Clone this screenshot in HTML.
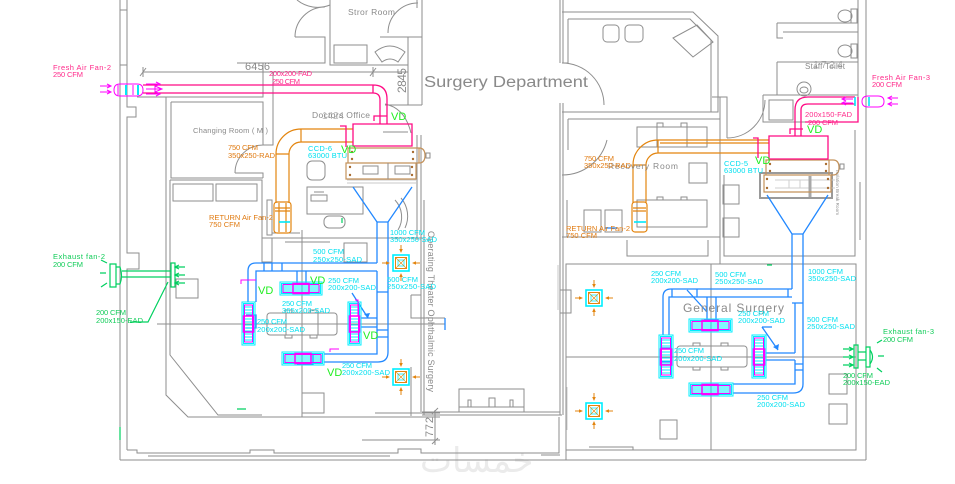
<!DOCTYPE html>
<html><head><meta charset="utf-8"><style>
html,body{margin:0;padding:0;background:#fff;}
svg{display:block;}
text{font-family:"Liberation Sans",sans-serif;}
.g{stroke:#8e8e8e;stroke-width:1;fill:none;}
.lg{stroke:#c9c9c9;stroke-width:1;fill:none;}
.mg{stroke:#ff0a84;stroke-width:1.3;fill:none;}
.fm{stroke:#ff00ff;stroke-width:1;fill:none;}
.or{stroke:#e3850f;stroke-width:1.2;fill:none;}
.br{stroke:#c4925a;stroke-width:1.2;fill:none;}
.bl{stroke:#2288ff;stroke-width:1.3;fill:none;}
.cy{stroke:#00eeff;stroke-width:1;fill:none;}
.gr{stroke:#00d060;stroke-width:1.2;fill:none;}
.t{font-size:7.5px;}
.tm{fill:#ff2a8a;}
.to{fill:#e07a10;}
.tc{fill:#00e0f0;}
.tg{fill:#10cc58;}
.tv{fill:#22ee22;font-size:11px;}
.tgr{fill:#8a8a8a;}
</style></head><body>
<svg width="955" height="484" viewBox="0 0 955 484" xmlns="http://www.w3.org/2000/svg">
<rect width="955" height="484" fill="#fff"/>

<!-- watermark -->
<text x="420" y="472" font-size="34" fill="#ebebeb" style="font-family:'DejaVu Sans',sans-serif">خمسات</text>

<!-- ===== GRAY WALLS ===== -->
<path class="g" d="
M120 0V460 M127 0V107H136V117H127V253H139V269H127V450
M120 10H127 M120 65H127
M127 450H137V453H250V450H274V453H398V449H421V453H559V417
M148 456H390 M120 460H866 M541 455H560
M297 0A33 33 0 0 0 330 5
M330 0V65H408
M295 37H325V63H237
M263 63V97H137
M143 72H408
M140 76L146 68 M370 76L376 68 M143 67V77 M373 67V77
M380 37H422 M408 37V105 M422 0V105 M417 0V8 M385 105H422
M295 37A30 30 0 0 1 325 7
M388 33A30 30 0 0 1 418 3
M273 72V145H263
M235 173A28 28 0 0 1 263 145 M235 173H263V178
M171 102H263V145 M171 102V178H263
M166 97V395L188 417H440
M170 180H262V262 M170 180V355L218 415H262
M267 200H272V235H267Z M272 233H300
M272 238H422 M272 238V262H262 M285 242H330
M302 230V417
M157 324H445
M411 295H421 M411 295V318H445
M411 367V416
M421 135V412 M424 200V415 M417 135V240
M362 440H440 M375 413H440
M435 410V445 M432 414L438 408 M432 444L438 438
M422 415H562 M422 412H560
M385 104Q405 108 411 133 M383 132H408
M560 0V63 M563 0V63 M562 63H568 M568 19V63
M562 12H693L718 36V112H562
M568 19H690L711 40V112
M562 63A42 42 0 0 1 604 105
M560 103V415 M563 103V415
M568 119H720 M568 119V150
M562 175A46 46 0 0 0 607 140
M720 97V264 M712 97H727V103 M727 103V138
M727 138A38 38 0 0 0 765 100
M763 95H858 M763 95V122H858
M777 23V38H783 M777 23H858 M783 32H858 M777 62V95 M777 62H858
M858 0V97 M866 0V460 M860 182V240
M562 237H720 M567 200V237
M627 240V256H708V240
M724 175V256H855V130
M566 264H856V450H566Z
M711 264V450 M566 357H856
M560 290H571V313H560
M589 447H633V450
M566 450V460
"/>
<path class="lg" d="M347 180H416 M347 183H416 M567 387V430 M558 265V310" stroke-width="1.5"/>

<!-- furniture gray -->
<g class="g">
<rect x="334" y="45" width="33" height="18"/>
<path d="M375 52Q390 40 405 52L398 62Q390 56 382 62Z"/>
<rect x="173" y="184" width="40" height="17"/>
<rect x="216" y="184" width="41" height="17"/>
<rect x="307" y="187" width="56" height="27"/>
<rect x="311" y="195" width="16" height="6"/>
<path d="M314 192H324"/>
<rect x="307" y="161" width="18" height="19" rx="5"/>
<rect x="324" y="216" width="21" height="12" rx="5"/>
<path d="M395 200A25 25 0 0 1 398 230 M401 198A28 28 0 0 1 405 228"/>
<rect x="344" y="243" width="23" height="19"/>
<rect x="267" y="313" width="70" height="22" rx="3"/>
<path d="M286 313V335M318 313V335"/>
<rect x="285" y="335" width="7" height="3"/><rect x="310" y="335" width="7" height="3"/>
<rect x="285" y="310" width="7" height="3"/><rect x="310" y="310" width="7" height="3"/>
<rect x="302" y="393" width="22" height="20"/>
<rect x="176" y="279" width="22" height="19"/>
<rect x="262" y="238" width="10" height="24"/>
<rect x="459" y="389" width="65" height="23"/>
<path d="M459 407H524 M468 407V400H471V407 M489 407V398H495V407 M510 407V400H513V407"/>
<rect x="603" y="25" width="16" height="17" rx="4"/>
<rect x="625" y="25" width="18" height="17" rx="4"/>
<polygon points="697,25 713,42 693,57 673,38"/>
<rect x="637" y="127" width="70" height="20"/>
<rect x="657" y="123" width="6" height="4"/><rect x="681" y="123" width="6" height="4"/>
<path d="M657 127V147M687 127V147"/>
<rect x="637" y="200" width="70" height="27"/>
<rect x="657" y="197" width="6" height="3"/><rect x="681" y="197" width="6" height="3"/>
<rect x="689" y="163" width="18" height="20"/>
<rect x="584" y="210" width="17" height="22"/>
<rect x="605" y="210" width="17" height="22"/>
<rect x="723" y="185" width="16" height="19"/>
<rect x="723" y="218" width="16" height="19"/>
<ellipse cx="845" cy="16" rx="7" ry="6"/><rect x="851" y="9" width="6" height="14"/>
<ellipse cx="845" cy="51" rx="7" ry="6"/><rect x="851" y="44" width="6" height="14"/>
<circle cx="804" cy="89" r="7"/><ellipse cx="804" cy="90" rx="4" ry="3"/>
<rect x="769" y="100" width="24" height="20"/>
<rect x="677" y="346" width="70" height="21" rx="3"/>
<rect x="693" y="343" width="7" height="3"/><rect x="721" y="343" width="7" height="3"/>
<rect x="693" y="367" width="7" height="3"/><rect x="721" y="367" width="7" height="3"/>
<rect x="829" y="374" width="18" height="20"/>
<rect x="829" y="404" width="18" height="20"/>
<rect x="660" y="420" width="17" height="19"/>
<rect x="426" y="153" width="4" height="5"/>
<rect x="840" y="164" width="4" height="5"/>
</g>

<!-- ===== ORANGE RETURN DUCTS ===== -->
<path class="or" d="M353 129H301A25 25 0 0 0 276 154V203 M353 142H301A12 12 0 0 0 289 154V203 M276 154H289 M301 129V142"/>
<rect x="274" y="202" width="17" height="31" rx="3" class="or"/>
<path class="or" d="M275 208H290M275 211H290M279 203V232M286 203V232" stroke-width="0.8"/>
<path stroke="#00e8f8" stroke-width="1.6" d="M279 222H290"/>
<path class="or" d="M769 140H658A25 25 0 0 0 633 165V203 M769 153H658A12 12 0 0 0 646 165V203 M633 165H646 M658 140V153 M660 143H769"/>
<rect x="632" y="202" width="15" height="30" rx="3" class="or"/>
<path class="or" d="M633 208H646M633 211H646" stroke-width="0.8"/>
<path stroke="#00e8f8" stroke-width="1.6" d="M634 222H646"/>

<!-- ===== CCD units (brown) ===== -->
<path class="br" d="M348 148H419Q425 148 425 155.5Q425 163 419 163H348Z M346 163H416V179H346Z M419 148V163"/>
<path class="g" d="M363 166H378V174H363Z M388 163V179 M395 166H410V174H395Z" stroke="#bbb"/>
<g fill="#a86c30">
<circle cx="352" cy="152" r="1.2"/><circle cx="352" cy="159" r="1.2"/><circle cx="413" cy="152" r="1.2"/><circle cx="413" cy="159" r="1.2"/>
<circle cx="350" cy="167" r="1.2"/><circle cx="350" cy="175" r="1.2"/><circle cx="412" cy="167" r="1.2"/><circle cx="412" cy="175" r="1.2"/>
</g>
<rect x="760" y="173" width="72" height="25" fill="none" stroke="#9a9a9a" stroke-width="2"/>
<path d="M775 180H835 M775 188H835 M789 180V188 M800 180V188" stroke="#cfcfcf" fill="none"/>
<path d="M810 176V197" stroke="#a8a8a8" stroke-width="3"/>
<path class="br" d="M766 160H833Q839 160 839 167.5Q839 175 833 175H766Z M764 175H831V192H764Z M829 160V175"/>
<g fill="#a86c30">
<circle cx="770" cy="164" r="1.2"/><circle cx="770" cy="171" r="1.2"/><circle cx="826" cy="164" r="1.2"/><circle cx="826" cy="171" r="1.2"/>
<circle cx="767" cy="179" r="1.2"/><circle cx="767" cy="188" r="1.2"/><circle cx="828" cy="179" r="1.2"/><circle cx="828" cy="188" r="1.2"/>
</g>

<!-- ===== MAGENTA FRESH AIR ===== -->
<path class="mg" d="M143 85H373Q387 85 387 99V124 M143 93H373Q380 93 380 100V124 M373 85V93 M353 124H412V146H353Z M340 126H346V147 M374 121V116H387"/>
<path class="fm" d="M120 84H137Q143 84 143 90Q143 96 137 96H120Q114 96 114 90Q114 84 120 84Z M118 85V95 M133 85V95"/>
<path stroke="#00e8f8" stroke-width="2" d="M126 85V95M138 85V95"/>
<path class="fm" d="M100 86H111M100 92H111M107 84L111 86 107 88M107 90L111 92 107 94 M146 84H160M146 89H162M146 94H160 M156 82L160 84 156 86 M155 86L162 89 155 92Z M156 92L160 94 156 96"/>
<path class="mg" d="M855 97H808Q795 97 795 110V136 M855 104H808Q801 104 801 110V136 M805 122H858V97 M769 136H828V159H769Z M753 138H758V158 M790 134V129H803"/>
<path class="fm" d="M868 96H878Q884 96 884 101.5Q884 107 878 107H868Q862 107 862 101.5Q862 96 868 96Z M888 98H898M888 104H898 M892 96L888 98 892 100 M892 102L888 104 892 106 M842 99H853M842 103H853 M846 97L842 99 846 101 M846 101L842 103 846 105"/>
<path stroke="#00e8f8" stroke-width="1.6" d="M869 97V106 M855 97V106"/>

<!-- ===== BLUE SUPPLY DUCTS ===== -->
<path class="bl" d="
M353 187L377 222H388L412 187
M377 222V263 M388 222V352Q388 362 378 362H324
M377 263H256Q248 263 248 271V302
M377 271H256V302
M377 271V354H324
M264 263V271 M272 263V271 M282 263V271
M377 292H388 M377 330H388 M377 337H388
M297 271V283 M306 271V283
M361 318H377 M361 327H377
M352 293L368 318
M246 315H256V328H246
M297 354H313V364H297
"/>
<path d="M368 318L364 314 370 313Z" fill="#2288ff"/>
<path class="bl" d="
M767 195L792 234H803L828 195
M792 234V289 M803 234V384Q803 393 793 393H733
M792 289H671Q663 289 663 297V335
M792 297H669V335
M795 303V353 M795 360V384H733
M792 303H803 M795 364H803 M795 370H803
M672 289V297 M697 289V297 M788 289V297
M707 297V320 M716 297V320
M687 290L707 312
M766 353H795 M766 360H795
M762 327L778 350 M762 327H772
M704 320H718V330H704
M661 348H671V362H661
"/>
<path d="M778 350L773 347 779 344Z" fill="#2288ff"/>
<path stroke="#2288ff" stroke-width="1.3" d="M445 318V330 M605 228H617"/>

<!-- ===== DIFFUSERS (wide) ===== -->
<g transform="translate(280,282)">
<rect width="42" height="13" class="cy" stroke-width="1.2"/><rect x="1.5" y="1.5" width="39" height="10" class="cy"/>
<path class="cy" stroke-width="0.6" d="M2 4H40M2 6H40M2 8H40M2 10H40"/>
<rect x="3" y="2.5" width="36" height="8" fill="none" stroke="#ff00ff"/>
<rect x="13" y="1.5" width="16" height="10" fill="none" stroke="#ff00ff" stroke-width="1.5"/>
</g>
<g transform="translate(282,352)">
<rect width="42" height="13" class="cy" stroke-width="1.2"/><rect x="1.5" y="1.5" width="39" height="10" class="cy"/>
<path class="cy" stroke-width="0.6" d="M2 4H40M2 6H40M2 8H40M2 10H40"/>
<rect x="3" y="2.5" width="36" height="8" fill="none" stroke="#ff00ff"/>
<rect x="13" y="1.5" width="16" height="10" fill="none" stroke="#ff00ff" stroke-width="1.5"/>
</g>
<g transform="translate(689,319)">
<rect width="43" height="13" class="cy" stroke-width="1.2"/><rect x="1.5" y="1.5" width="40" height="10" class="cy"/>
<path class="cy" stroke-width="0.6" d="M2 4H41M2 6H41M2 8H41M2 10H41"/>
<rect x="3" y="2.5" width="37" height="8" fill="none" stroke="#ff00ff"/>
<rect x="13" y="1.5" width="16" height="10" fill="none" stroke="#ff00ff" stroke-width="1.5"/>
</g>
<g transform="translate(689,383)">
<rect width="44" height="13" class="cy" stroke-width="1.2"/><rect x="1.5" y="1.5" width="41" height="10" class="cy"/>
<path class="cy" stroke-width="0.6" d="M2 4H42M2 6H42M2 8H42M2 10H42"/>
<rect x="3" y="2.5" width="38" height="8" fill="none" stroke="#ff00ff"/>
<rect x="13" y="1.5" width="16" height="10" fill="none" stroke="#ff00ff" stroke-width="1.5"/>
</g>
<!-- tall -->
<g transform="translate(242,302)">
<rect width="13" height="43" class="cy" stroke-width="1.2"/><rect x="1.5" y="1.5" width="10" height="40" class="cy"/>
<path class="cy" stroke-width="0.6" d="M2 5H11M2 8H11M2 11H11M2 14H11M2 17H11M2 20H11M2 23H11M2 26H11M2 29H11M2 32H11M2 35H11M2 38H11"/>
<rect x="2.5" y="3" width="8" height="37" fill="none" stroke="#ff00ff"/>
<rect x="1.5" y="14" width="10" height="16" fill="none" stroke="#ff00ff" stroke-width="1.5"/>
</g>
<g transform="translate(348,302)">
<rect width="13" height="43" class="cy" stroke-width="1.2"/><rect x="1.5" y="1.5" width="10" height="40" class="cy"/>
<path class="cy" stroke-width="0.6" d="M2 5H11M2 8H11M2 11H11M2 14H11M2 17H11M2 20H11M2 23H11M2 26H11M2 29H11M2 32H11M2 35H11M2 38H11"/>
<rect x="2.5" y="3" width="8" height="37" fill="none" stroke="#ff00ff"/>
<rect x="1.5" y="14" width="10" height="16" fill="none" stroke="#ff00ff" stroke-width="1.5"/>
</g>
<g transform="translate(659,335)">
<rect width="14" height="43" class="cy" stroke-width="1.2"/><rect x="1.5" y="1.5" width="11" height="40" class="cy"/>
<path class="cy" stroke-width="0.6" d="M2 5H12M2 8H12M2 11H12M2 14H12M2 17H12M2 20H12M2 23H12M2 26H12M2 29H12M2 32H12M2 35H12M2 38H12"/>
<rect x="2.5" y="3" width="9" height="37" fill="none" stroke="#ff00ff"/>
<rect x="1.5" y="14" width="11" height="16" fill="none" stroke="#ff00ff" stroke-width="1.5"/>
</g>
<g transform="translate(752,335)">
<rect width="14" height="43" class="cy" stroke-width="1.2"/><rect x="1.5" y="1.5" width="11" height="40" class="cy"/>
<path class="cy" stroke-width="0.6" d="M2 5H12M2 8H12M2 11H12M2 14H12M2 17H12M2 20H12M2 23H12M2 26H12M2 29H12M2 32H12M2 35H12M2 38H12"/>
<rect x="2.5" y="3" width="9" height="37" fill="none" stroke="#ff00ff"/>
<rect x="1.5" y="14" width="11" height="16" fill="none" stroke="#ff00ff" stroke-width="1.5"/>
</g>

<!-- ===== SQUARE DIFFUSERS ===== -->
<g transform="translate(401,263)">
<rect x="-8" y="-8" width="16" height="16" stroke="#00eeff" stroke-width="1.6" fill="none"/>
<rect x="-5.5" y="-5.5" width="11" height="11" stroke="#e3850f" fill="none"/>
<rect x="-3" y="-3" width="6" height="6" stroke="#00eeff" stroke-width="0.8" fill="none"/>
<path d="M-5.5 -5.5L5.5 5.5M5.5 -5.5L-5.5 5.5" stroke="#e3850f" stroke-width="0.6"/>
<path d="M0 -18V-11M0 11V18M-19 0H-12M12 0H19" stroke="#e3850f"/>
<path d="M-1.8 -14L0 -10 1.8 -14ZM-1.8 14L0 10 1.8 14ZM-15 -1.8L-11 0 -15 1.8ZM15 -1.8L11 0 15 1.8Z" fill="#e3850f"/>
</g>
<g transform="translate(401,377)">
<rect x="-8" y="-8" width="16" height="16" stroke="#00eeff" stroke-width="1.6" fill="none"/>
<rect x="-5.5" y="-5.5" width="11" height="11" stroke="#e3850f" fill="none"/>
<rect x="-3" y="-3" width="6" height="6" stroke="#00eeff" stroke-width="0.8" fill="none"/>
<path d="M-5.5 -5.5L5.5 5.5M5.5 -5.5L-5.5 5.5" stroke="#e3850f" stroke-width="0.6"/>
<path d="M0 -18V-11M0 11V18M-19 0H-12M12 0H19" stroke="#e3850f"/>
<path d="M-1.8 -14L0 -10 1.8 -14ZM-1.8 14L0 10 1.8 14ZM-15 -1.8L-11 0 -15 1.8ZM15 -1.8L11 0 15 1.8Z" fill="#e3850f"/>
</g>
<g transform="translate(594,298)">
<rect x="-8" y="-8" width="16" height="16" stroke="#00eeff" stroke-width="1.6" fill="none"/>
<rect x="-5.5" y="-5.5" width="11" height="11" stroke="#e3850f" fill="none"/>
<rect x="-3" y="-3" width="6" height="6" stroke="#00eeff" stroke-width="0.8" fill="none"/>
<path d="M-5.5 -5.5L5.5 5.5M5.5 -5.5L-5.5 5.5" stroke="#e3850f" stroke-width="0.6"/>
<path d="M0 -18V-11M0 11V18M-19 0H-12M12 0H19" stroke="#e3850f"/>
<path d="M-1.8 -14L0 -10 1.8 -14ZM-1.8 14L0 10 1.8 14ZM-15 -1.8L-11 0 -15 1.8ZM15 -1.8L11 0 15 1.8Z" fill="#e3850f"/>
</g>
<g transform="translate(594,411)">
<rect x="-8" y="-8" width="16" height="16" stroke="#00eeff" stroke-width="1.6" fill="none"/>
<rect x="-5.5" y="-5.5" width="11" height="11" stroke="#e3850f" fill="none"/>
<rect x="-3" y="-3" width="6" height="6" stroke="#00eeff" stroke-width="0.8" fill="none"/>
<path d="M-5.5 -5.5L5.5 5.5M5.5 -5.5L-5.5 5.5" stroke="#e3850f" stroke-width="0.6"/>
<path d="M0 -18V-11M0 11V18M-19 0H-12M12 0H19" stroke="#e3850f"/>
<path d="M-1.8 -14L0 -10 1.8 -14ZM-1.8 14L0 10 1.8 14ZM-15 -1.8L-11 0 -15 1.8ZM15 -1.8L11 0 15 1.8Z" fill="#e3850f"/>
</g>

<!-- ===== EXHAUST FANS (green) ===== -->
<path class="gr" d="M110 264H116V287H110Z M116 267H120Q123 276 120 284H116 M122 271H171 M122 277H171 M171 263H175V287H171Z M175 267H185M175 275H185M175 283H185 M179 265L175 267 179 269 M179 273L175 275 179 277 M179 281L175 283 179 285 M101 260L107 263 M100 273H106 M101 287L107 283 M130 322H148L168 282 M237 409H246 M120 427V440 M342 218V223 M767 265H772"/>
<path class="gr" d="M854 345H858V368H854Z M858 352H866M858 360H866 M866 347H870V367H866Z M870 350Q875 357 870 364 M843 349H853M843 357H853M843 365H853 M849 347L853 349 849 351 M849 355L853 357 849 359 M849 363L853 365 849 367 M877 343L882 340 M878 356H884 M877 368L882 372"/>

<!-- ===== TEXT: gray ===== -->
<text class="tgr" x="348" y="15" font-size="8.5" textLength="47">Stror Room</text>
<text class="tgr" x="424" y="87" font-size="15.5" textLength="164" lengthAdjust="spacingAndGlyphs">Surgery Department</text>
<text class="tgr" transform="translate(406,93) rotate(-90)" font-size="12" textLength="25">2845</text>
<text class="tgr" x="245" y="70" font-size="11" textLength="25">6456</text>
<text class="tgr" x="312" y="118" font-size="8.5" textLength="58">Doctors Office</text>
<text class="tgr" x="322" y="119" font-size="10" fill-opacity="0.6" textLength="22">1424</text>
<text class="tgr" x="193" y="133" font-size="7.5" textLength="75">Changing Room ( M )</text>
<text class="tgr" transform="translate(428,231) rotate(90)" font-size="9" textLength="161">Operating Theater Ophthalmic Surgery</text>
<text class="tgr" transform="translate(433,437) rotate(-90)" font-size="11" textLength="20">772</text>
<text class="tgr" x="683" y="312" font-size="12" textLength="101">General Surgery</text>
<text class="tgr" x="608" y="169" font-size="8.5" textLength="70">Recovery Room</text>
<text class="tgr" x="805" y="69" font-size="8" textLength="40">Staff Toilet</text>
<text class="tgr" x="813" y="68" font-size="10.5" fill-opacity="0.7" textLength="30">1724</text>
<text class="tgr" transform="translate(836,170) rotate(90)" font-size="4.5" textLength="45">Isolation Break Room</text>

<!-- ===== TEXT: magenta ===== -->
<g class="t tm">
<text x="53" y="70" textLength="58">Fresh Air Fan-2</text>
<text x="53" y="77" textLength="30">250 CFM</text>
<text x="269" y="76" textLength="43">200x200-FAD</text>
<text x="272" y="84" textLength="28">250 CFM</text>
<text x="872" y="80" textLength="58">Fresh Air Fan-3</text>
<text x="872" y="87" textLength="30">200 CFM</text>
<text x="805" y="117" textLength="47">200x150-FAD</text>
<text x="808" y="125" textLength="30">200 CFM</text>
</g>

<!-- ===== TEXT: orange ===== -->
<g class="t to">
<text x="228" y="150" textLength="30">750 CFM</text>
<text x="228" y="158" textLength="47">350x250-RAD</text>
<text x="209" y="220" textLength="64">RETURN Air Fan-2</text>
<text x="209" y="227" textLength="31">750 CFM</text>
<text x="584" y="161" textLength="30">750 CFM</text>
<text x="584" y="168" textLength="47">350x250-RAD</text>
<text x="566" y="231" textLength="64">RETURN Air Fan-2</text>
<text x="566" y="238" textLength="31">750 CFM</text>
</g>

<!-- ===== TEXT: cyan ===== -->
<g class="t tc">
<text x="308" y="151" textLength="24">CCD-6</text>
<text x="308" y="158" textLength="39">63000 BTU</text>
<text x="724" y="166" textLength="24">CCD-5</text>
<text x="724" y="173" textLength="39">63000 BTU</text>
<text x="390" y="235" textLength="35">1000 CFM</text>
<text x="390" y="242" textLength="47">350x250-SAD</text>
<text x="313" y="254" textLength="31">500 CFM</text>
<text x="313" y="262" textLength="49">250x250-SAD</text>
<text x="328" y="283" textLength="31">250 CFM</text>
<text x="328" y="290" textLength="48">200x200-SAD</text>
<text x="387" y="282" textLength="31">500 CFM</text>
<text x="387" y="289" textLength="49">250x250-SAD</text>
<text x="282" y="306" textLength="30">250 CFM</text>
<text x="282" y="313" textLength="48">365x200-SAD</text>
<text x="257" y="324" textLength="30">250 CFM</text>
<text x="257" y="332" textLength="48">200x200-SAD</text>
<text x="342" y="368" textLength="30">250 CFM</text>
<text x="342" y="375" textLength="48">200x200-SAD</text>
<text x="651" y="276" textLength="30">250 CFM</text>
<text x="651" y="283" textLength="47">200x200-SAD</text>
<text x="715" y="277" textLength="31">500 CFM</text>
<text x="715" y="284" textLength="48">250x250-SAD</text>
<text x="808" y="274" textLength="35">1000 CFM</text>
<text x="808" y="281" textLength="48">350x250-SAD</text>
<text x="738" y="316" textLength="31">250 CFM</text>
<text x="738" y="323" textLength="47">200x200-SAD</text>
<text x="807" y="322" textLength="31">500 CFM</text>
<text x="807" y="329" textLength="48">250x250-SAD</text>
<text x="674" y="353" textLength="30">250 CFM</text>
<text x="674" y="361" textLength="48">200x200-SAD</text>
<text x="757" y="400" textLength="31">250 CFM</text>
<text x="757" y="407" textLength="48">200x200-SAD</text>
</g>

<!-- ===== TEXT: green ===== -->
<g class="t tg">
<text x="53" y="259" textLength="52">Exhaust fan-2</text>
<text x="53" y="267" textLength="30">200 CFM</text>
<text x="96" y="315" textLength="30">200 CFM</text>
<text x="96" y="323" textLength="47">200x150-EAD</text>
<text x="883" y="334" textLength="51">Exhaust fan-3</text>
<text x="883" y="342" textLength="30">200 CFM</text>
<text x="843" y="378" textLength="30">200 CFM</text>
<text x="843" y="385" textLength="47">200x150-EAD</text>
</g>
<g class="tv">
<text x="391" y="120">VD</text>
<text x="341" y="153">VD</text>
<text x="807" y="133">VD</text>
<text x="755" y="164">VD</text>
<text x="258" y="294">VD</text>
<text x="310" y="284">VD</text>
<text x="363" y="339">VD</text>
<text x="327" y="376">VD</text>
</g>
<path class="fm" d="M241 284V280H256 M330 352V349H339 M355 300H358V316" stroke-width="1.2"/>
</svg>
</body></html>
